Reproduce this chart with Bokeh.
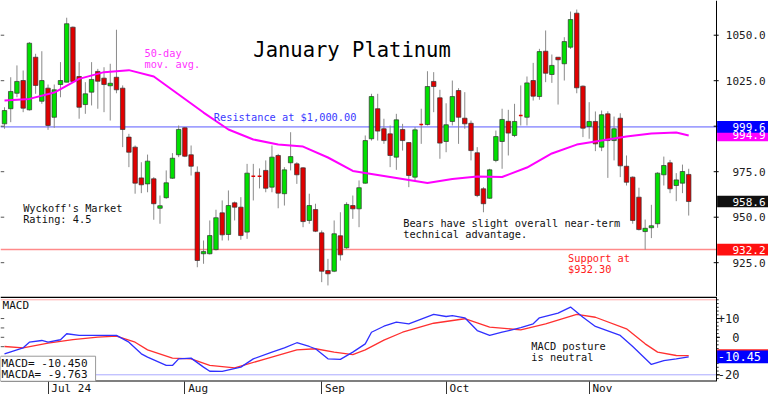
from bokeh.plotting import figure
from bokeh.layouts import column
from bokeh.models import Range1d, FixedTicker, Span, Label, ColumnDataSource
from bokeh.embed import file_html
from bokeh.resources import INLINE
from bokeh.core.properties import value

# ---------------- data ----------------
opens = [1001.3, 1009.6, 1018.1, 1025.1, 1009.0, 1037.9, 1013.7, 1020.9, 1004.9, 1022.9,
         1024.2, 1054.4, 1027.3, 1011.9, 1018.7, 1030.1, 1026.4, 1022.2, 1026.9, 1020.9,
         994.0, 988.5, 971.6, 968.3, 971.1, 954.9, 960.7, 971.4, 984.3, 999.1,
         984.3, 974.7, 929.9, 929.9, 932.2, 952.4, 940.5, 957.9, 955.5, 941.8,
         972.5, 972.5, 975.7, 966.5, 983.9, 962.9, 979.9, 979.3, 977.1, 948.2,
         954.2, 941.4, 920.7, 920.3, 939.8, 933.2, 956.4, 954.6, 968.7, 993.1,
         1009.6, 998.6, 995.8, 983.0, 998.2, 991.0, 972.0, 1000.9, 1000.9, 1024.6,
         1015.6, 991.6, 1002.6, 1019.6, 1004.4, 1001.6, 985.4, 965.6, 960.4, 981.2,
         991.6, 1002.7, 994.9, 1005.9, 1004.9, 1025.1, 1016.3, 1041.2, 1028.4, 1037.9,
         1034.3, 1043.4, 1062.1, 1022.0, 999.8, 1002.6, 988.5, 1006.8, 992.1, 1004.4,
         978.0, 972.0, 961.0, 942.1, 944.2, 946.4, 973.3, 979.9, 967.4, 968.7, 973.5]
highs = [1010.4, 1026.9, 1033.4, 1030.6, 1046.2, 1039.8, 1041.2, 1022.9, 1022.9, 1035.2,
         1059.6, 1054.8, 1035.2, 1024.2, 1035.2, 1031.5, 1032.4, 1034.3, 1053.0, 1022.4,
         995.8, 989.4, 980.2, 984.4, 972.0, 961.9, 975.7, 985.2, 1000.4, 999.5,
         989.4, 977.9, 937.2, 948.2, 954.1, 959.2, 964.7, 958.6, 961.0, 979.3,
         979.3, 976.8, 981.2, 989.4, 984.8, 977.5, 996.7, 980.2, 977.5, 962.9,
         957.4, 942.7, 927.1, 948.2, 952.7, 958.2, 961.9, 970.2, 994.9, 1017.8,
         1017.8, 1004.1, 1000.4, 1006.8, 1001.3, 991.2, 999.5, 1009.6, 1030.2, 1029.7,
         1020.0, 1012.6, 1025.1, 1020.9, 1018.7, 1003.1, 988.5, 966.5, 976.6, 997.6,
         1009.6, 1009.0, 1012.3, 1022.4, 1027.3, 1034.8, 1042.5, 1052.6, 1039.4, 1037.9,
         1048.9, 1063.0, 1064.1, 1022.4, 1013.2, 1008.1, 1008.6, 1008.2, 1005.3, 1007.1,
         983.9, 972.4, 966.2, 948.7, 956.8, 974.7, 983.3, 981.5, 974.2, 978.9, 976.6]
lows = [998.6, 1002.2, 1015.9, 1007.7, 1008.6, 1017.8, 1012.3, 998.0, 999.1, 1015.9,
        1024.2, 1024.2, 1004.1, 1006.8, 1011.4, 1009.6, 1007.7, 1003.1, 1018.1, 988.5,
        977.5, 962.9, 963.2, 963.7, 948.6, 946.4, 960.1, 971.1, 983.0, 983.0,
        972.9, 922.5, 924.4, 929.5, 931.7, 937.2, 937.2, 948.2, 937.6, 938.1,
        959.2, 965.8, 963.7, 963.7, 954.9, 956.4, 975.7, 968.3, 944.5, 946.4,
        941.8, 914.3, 912.5, 919.8, 926.2, 932.6, 949.1, 944.5, 968.4, 992.1,
        992.1, 990.3, 977.5, 976.0, 986.6, 966.5, 970.2, 990.3, 1000.4, 1007.7,
        982.1, 985.7, 1000.4, 990.3, 998.6, 981.2, 961.0, 952.7, 960.1, 980.2,
        976.6, 983.9, 994.0, 1000.4, 1000.4, 1014.1, 1014.5, 1024.2, 1023.8, 1011.9,
        1025.1, 1042.5, 1018.1, 994.0, 993.1, 986.3, 986.3, 971.6, 981.2, 972.0,
        967.4, 946.4, 942.7, 932.2, 938.5, 944.2, 967.4, 963.2, 958.8, 963.2, 950.9]
closes = [1008.6, 1019.1, 1024.6, 1009.9, 1045.6, 1022.4, 1025.1, 1000.4, 1020.0, 1025.1,
          1056.3, 1024.6, 1010.4, 1017.8, 1025.7, 1024.7, 1022.9, 1023.6, 1020.0, 998.2,
          985.7, 968.7, 967.8, 980.8, 957.4, 956.3, 968.9, 982.4, 998.2, 983.5,
          978.0, 926.2, 931.1, 939.9, 949.7, 940.3, 956.4, 955.5, 939.9, 974.2,
          972.5, 972.5, 965.9, 983.0, 963.2, 976.0, 983.3, 973.3, 947.6, 956.4,
          942.3, 920.3, 918.9, 940.9, 929.3, 957.0, 954.6, 966.2, 992.1, 1016.3,
          997.3, 992.1, 983.9, 1003.5, 992.1, 972.9, 998.0, 1000.9, 1021.8, 1021.8,
          990.7, 1000.8, 1016.3, 1004.9, 1001.3, 986.6, 961.9, 957.4, 976.0, 994.3,
          1003.7, 996.2, 1002.6, 1005.9, 1023.8, 1016.5, 1041.0, 1029.1, 1033.4, 1036.5,
          1046.5, 1058.6, 1021.1, 998.9, 1002.6, 990.3, 1006.3, 992.1, 998.6, 978.2,
          969.2, 948.2, 943.2, 943.9, 945.3, 974.2, 978.4, 965.6, 970.5, 975.1, 958.6]

ma_idx = [0, 4, 8, 12, 16, 20, 24, 28, 32, 36, 40, 44, 48, 52, 56, 60, 64, 68, 72, 76,
          80, 84, 88, 92, 96, 100, 104, 108, 110]
ma_vals = [1014.1, 1015.0, 1018.5, 1026.0, 1029.7, 1030.8, 1027.3, 1017.4, 1007.5, 998.2,
           992.7, 989.9, 988.8, 982.8, 975.4, 973.2, 971.0, 968.8, 971.0, 972.4,
           972.1, 977.3, 985.0, 989.9, 992.1, 994.3, 996.0, 996.5, 994.9]

macd_idx = [0, 3, 4, 6, 7, 9, 10, 12, 15, 18, 20, 22, 23, 26, 27, 28, 30, 32, 33, 35,
            38, 40, 43, 45, 47, 49, 50, 52, 54, 56, 58, 59, 61, 63, 65, 69, 71, 72, 74, 76,
            78, 80, 83, 85, 86, 89, 91, 93, 95, 99, 101, 104, 106, 108, 110]
macd_vals = [-8.8, -5.6, -2.6, -1.7, -2.6, -1.3, 1.9, 1.0, 1.0, 1.0, -2.6, -8.8, -10.6, -15.0,
             -15.0, -11.5, -11.1, -15.9, -18.1, -18.2, -15.9, -11.5, -7.9, -5.6, -2.9, -4.9,
             -6.1, -11.5, -11.8, -7.9, -3.5, 2.7, 5.9, 8.1, 7.2, 12.2, 11.1, 11.6, 10.4, 3.6,
             1.0, 2.7, 5.1, 7.2, 10.4, 12.9, 16.1, 10.7, 5.8, 1.0, -4.9, -14.5, -12.4, -11.5,
             -10.45]
macda_idx = [0, 3, 7, 11, 15, 18, 21, 23, 27, 30, 33, 37, 42, 47, 50, 53, 56, 58, 61, 64,
             69, 74, 78, 83, 87, 92, 95, 100, 103, 105, 108, 110]
macda_vals = [-4.9, -5.6, -3.1, -1.2, 0.1, 0.6, -2.6, -6.7, -11.1, -11.5, -15.0, -16.3, -11.5,
              -6.7, -6.1, -7.9, -9.2, -6.7, -1.5, 2.7, 7.5, 9.9, 5.4, 4.0, 7.2, 12.2, 10.7,
              4.5, -3.5, -7.9, -9.7, -9.763]

month_idx = [7, 29, 51, 71, 94]
month_labels = ["Jul 24", "Aug", "Sep", "Oct", "Nov"]
price_ticks = [925, 950, 975, 1000, 1025, 1050]
price_tick_labels = ["925.0", "950.0", "975.0", "1000.0", "1025.0", "1050.0"]
macd_ticks = [-20, -10, 0, 10]
macd_tick_labels = ["-20", "-10", "0", "+10"]

resistance = 999.6
support = 932.2
last_ma = 994.9
last_close = 958.6
macd_last = -10.450
macda_last = -9.763

MONO = "DejaVu Sans Mono"

# ---------------- layout constants (x in bar-index units) ----------------
X0 = -0.643         # left edge of both frames
AXIS_X = 114.47     # position of the right price scale line
X1 = 122.83         # right edge (canvas edge)
xr = Range1d(X0, X1)

# ---------------- main panel ----------------
p1 = figure(frame_width=768, frame_height=296, x_range=xr, y_range=Range1d(906.42, 1069.07),
            output_backend="svg", toolbar_location=None, x_axis_location=None,
            y_axis_location=None, min_border=0)
p1.xgrid.visible = False
p1.ygrid.visible = False
p1.outline_line_color = None
p1.background_fill_color = "white"

n = len(opens)
idx = list(range(n))
tops = [max(o, c) for o, c in zip(opens, closes)]
bots = [min(o, c) for o, c in zip(opens, closes)]
cols = ["#00e000" if c > o else "#e00000" for o, c in zip(opens, closes)]
src = ColumnDataSource(dict(x=idx, h=highs, l=lows))

# reference lines (stop at the price scale)
p1.segment(x0=[X0, X0], x1=[AXIS_X, AXIS_X], y0=[resistance, support], y1=[resistance, support],
           line_color=["#5a5aff", "#ff8a8a"], line_width=[1, 1.5])

# candles
p1.segment(x0="x", y0="l", x1="x", y1="h", source=src, line_color="#8a8a8a", line_width=1)
nd = [i for i in idx if opens[i] != closes[i]]
dj = [i for i in idx if opens[i] == closes[i]]
p1.vbar(x=[idx[i] for i in nd], width=0.72, top=[tops[i] for i in nd],
        bottom=[bots[i] for i in nd], fill_color=[cols[i] for i in nd],
        line_color="#303030", line_width=0.7)
p1.segment(x0=[i - 0.3 for i in dj], x1=[i + 0.3 for i in dj], y0=[opens[i] for i in dj],
           y1=[opens[i] for i in dj], line_color="#e00000", line_width=1.5)
p1.line(ma_idx, ma_vals, line_color="#ff00ff", line_width=2)

# price scale (right)
p1.add_layout(Span(location=AXIS_X, dimension="height", line_color="black", line_width=1))
p1.segment(x0=[AXIS_X - 0.45] * len(price_ticks), x1=[AXIS_X + 0.35] * len(price_ticks),
           y0=price_ticks, y1=price_ticks, line_color="black", line_width=1)
p1.segment(x0=[X0] * len(price_ticks), x1=[X0 + 0.6] * len(price_ticks),
           y0=price_ticks, y1=price_ticks, line_color="#555555", line_width=1)
p1.text(x=[AXIS_X + 7.88] * len(price_ticks), y=price_ticks, text=price_tick_labels,
        text_font=value(MONO), text_font_size=value("11px"), text_color="#202020",
        text_align="right", text_baseline="middle")

box_vals = [last_ma, resistance, last_close, support]
box_cols = ["#ff00ff", "#0000ff", "#101010", "#ff1010"]
box_txt = [f"{v:.1f}" for v in box_vals]
HALF_P = 3.2
p1.quad(left=[AXIS_X + 0.1] * 4, right=[X1] * 4, top=[v + HALF_P for v in box_vals],
        bottom=[v - HALF_P for v in box_vals], fill_color=box_cols, line_color=None)
p1.text(x=[AXIS_X + 7.88] * 4, y=box_vals, text=box_txt, text_font=value(MONO),
        text_font_size=value("11px"), text_color="white", text_align="right",
        text_baseline="middle")


def txt(fig, x, y, t, color="#111111", size="10.3px", baseline="top", lh=0.9):
    fig.add_layout(Label(x=x, y=y, text=t, text_color=color, text_font=MONO,
                         text_font_size=size, text_baseline=baseline, text_align="left",
                         text_line_height=lh))


txt(p1, 40.0, 1042.1, "January Platinum", color="black", size="20.5px", baseline="middle")
txt(p1, 22.5, 1043.6, "50-day\nmov. avg.", color="#ff33ff")
txt(p1, 33.65, 1005.1, "Resistance at $1,000.00", color="#3a3aff", baseline="middle")
txt(p1, 3.0, 958.5, "Wyckoff's Market\nRating: 4.5")
txt(p1, 64.1, 950.2, "Bears have slight overall near-term\ntechnical advantage.")
txt(p1, 90.6, 930.6, "Support at\n$932.30", color="#ff2020")

# ---------------- MACD panel ----------------
p2 = figure(frame_width=768, frame_height=85, x_range=xr, y_range=Range1d(-23.57, 21.76),
            output_backend="svg", toolbar_location=None, y_axis_location=None,
            min_border=0, min_border_bottom=13)
p2.xgrid.visible = False
p2.ygrid.visible = False
p2.outline_line_color = None

p2.segment(x0=[X0] * 3, x1=[AXIS_X] * 3, y0=[20, -20, 21.4], y1=[20, -20, 21.4],
           line_color=["#ffaaaa", "#aaaaff", "black"], line_width=[1, 1, 1.6])
p2.segment(x0=[X0], x1=[AXIS_X], y0=[-23.57], y1=[-23.57], line_color="black", line_width=2)
p2.line(macda_idx, macda_vals, line_color="#ff3030", line_width=1.3)
p2.line(macd_idx, macd_vals, line_color="#3030ff", line_width=1.3)

xax = p2.xaxis[0]
xax.ticker = FixedTicker(ticks=month_idx)
xax.major_label_overrides = {m: "\u00a0" * (len(s) + 1) + s for m, s in zip(month_idx, month_labels)}
xax.major_label_text_font = MONO
xax.major_label_text_font_size = "11px"
xax.major_label_text_color = "#111111"
xax.major_tick_in = 0
xax.major_tick_out = 13
xax.minor_tick_in = 0
xax.minor_tick_out = 0
xax.major_label_standoff = -13
xax.axis_line_color = None
xax.major_tick_line_color = "#333333"

# MACD scale (right)
p2.add_layout(Span(location=AXIS_X, dimension="height", line_color="black", line_width=1))
minor = list(range(-22, 22, 2))
p2.segment(x0=[AXIS_X] * len(minor), x1=[AXIS_X + 0.35] * len(minor), y0=minor, y1=minor,
           line_color="#333333", line_width=1)
p2.segment(x0=[AXIS_X] * len(macd_ticks), x1=[AXIS_X + 0.55] * len(macd_ticks),
           y0=macd_ticks, y1=macd_ticks, line_color="black", line_width=1)
left_ticks = [10, 5, 0, -5]
p2.segment(x0=[X0] * len(left_ticks), x1=[X0 + 0.6] * len(left_ticks), y0=left_ticks,
           y1=left_ticks, line_color="#555555", line_width=1)
p2.text(x=[AXIS_X + 3.7] * len(macd_ticks), y=macd_ticks, text=macd_tick_labels,
        text_font=value(MONO), text_font_size=value("12px"), text_color="#202020",
        text_align="right", text_baseline="middle")
HALF_M = 3.4
p2.quad(left=[AXIS_X + 0.1] * 2, right=[X1] * 2, top=[macda_last + HALF_M, macd_last + HALF_M],
        bottom=[macda_last - HALF_M, macd_last - HALF_M], fill_color=["#ff2020", "#0000ff"],
        line_color=None)
p2.text(x=[AXIS_X + 0.2], y=[macd_last], text=[f"{macd_last:.2f}"], text_font=value(MONO),
        text_font_size=value("12px"), text_color="white", text_align="left",
        text_baseline="middle")

txt(p2, -0.32, 20.3, "MACD", size="11px")
txt(p2, 84.7, -1.55, "MACD posture\nis neutral")
p2.add_layout(Label(x=X0, y=-10.08, text=f"MACD= {macd_last:.3f}\nMACDA= {macda_last:.3f}",
                    text_color="#111111", text_font=MONO, text_font_size="11px",
                    text_baseline="top", text_align="left", text_line_height=0.85,
                    background_fill_color="white", border_line_color="#999999",
                    padding=(1, 8, 1, 0)))

layout = column(p1, p2, spacing=0)
open("out.html", "w").write(file_html(layout, INLINE))
